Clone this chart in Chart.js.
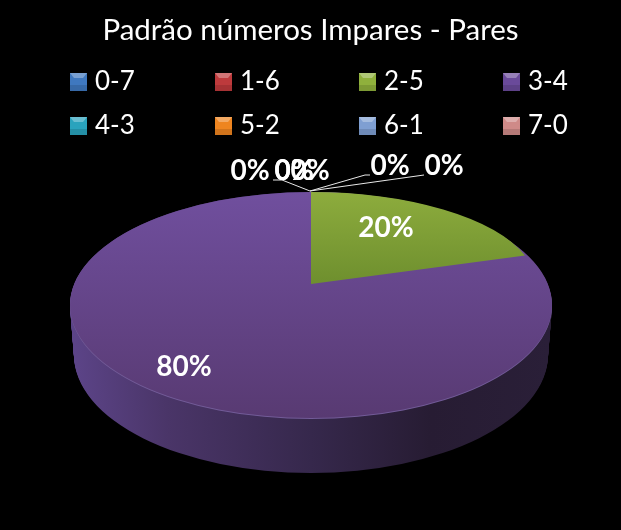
<!DOCTYPE html>
<html>
<head>
<meta charset="utf-8">
<style>
  html, body { margin: 0; padding: 0; background: #000; }
  canvas { display: block; }
</style>
<script src="https://cdn.jsdelivr.net/npm/chart.js@4/dist/chart.umd.min.js"></script>
</head>
<body>
<canvas id="myChart" width="621" height="530"></canvas>
<script>
const titleText = 'Padrão números Impares - Pares';
const categories = ['0-7', '1-6', '2-5', '3-4', '4-3', '5-2', '6-1', '7-0'];
const seriesValues = [0, 0, 20, 80, 0, 0, 0, 0];
const sliceColors = ['#3f78bf', '#bd3a3c', '#8fb03c', '#6a4a9a', '#2aa3bd', '#ee8520', '#7f9fd2', '#cf8a88'];

// layout
const fontName = 'Lato, "Open Sans", sans-serif';
const topDisc = { x: 311, y: 305, rx: 241, ry: 113 };
const bottomDisc = { x: 311, y: 355, rx: 237, ry: 118 };
// green slice needs its own centre, the original pie is in perspective
const greenDisc = { x: 311, y: 284, rx: 225, ry: 92 };
const legendCols = [70, 215, 359, 503];
const legendRows = [73, 117];
// one per category: label centre, then leader line points
const labelSpots = [
  { x: 390, y: 165, line: [[370, 175], [365, 175], [310, 191]] },
  { x: 444, y: 165, line: [[424, 175], [310, 191]] },
  { x: 386, y: 227 },
  { x: 184, y: 366 },
  { x: 310, y: 170 },
  { x: 294, y: 170 },
  { x: 294, y: 170 },
  { x: 250, y: 170, line: [[273, 180], [282, 180], [310, 191]] }
];

function withFill(arc, fill, fn) {
  const old = arc.options;
  arc.options = Object.assign({}, old, { backgroundColor: fill, borderWidth: 0 });
  fn();
  arc.options = old;
}

// draws one arc of the chart squashed on to the given ellipse
function drawOnDisc(ctx, arc, disc, fill, whole) {
  const R = arc.outerRadius;
  const start = arc.startAngle, end = arc.endAngle, circ = arc.circumference;
  if (whole) {
    arc.startAngle = -Math.PI / 2;
    arc.endAngle = Math.PI * 1.5;
    arc.circumference = Math.PI * 2;
  }
  ctx.save();
  ctx.translate(disc.x, disc.y);
  ctx.scale(disc.rx / R, disc.ry / R);
  ctx.translate(-arc.x, -arc.y);
  withFill(arc, fill, function() { arc.draw(ctx); });
  ctx.restore();
  arc.startAngle = start;
  arc.endAngle = end;
  arc.circumference = circ;
}

const pie3d = {
  id: 'pie3d',
  beforeDatasetsDraw(chart) {
    const ctx = chart.ctx;
    const arcs = chart.getDatasetMeta(0).data;
    const purple = arcs[3], green = arcs[2];
    const R = purple.outerRadius, ax = purple.x, ay = purple.y;

    // wall first, layers from the bottom disc up to the top disc
    const wall = ctx.createLinearGradient(ax - R, 0, ax + R, 0);
    wall.addColorStop(0, '#5c4488');
    wall.addColorStop(0.2, '#4a3568');
    wall.addColorStop(0.5, '#36284c');
    wall.addColorStop(0.75, '#271c33');
    wall.addColorStop(1, '#2a1f38');
    const steps = bottomDisc.y - topDisc.y;
    for (let i = 0; i <= steps; i++) {
      const t = 1 - i / steps;
      drawOnDisc(ctx, purple, {
        x: topDisc.x,
        y: topDisc.y + (bottomDisc.y - topDisc.y) * t,
        rx: topDisc.rx + (bottomDisc.rx - topDisc.rx) * t,
        ry: topDisc.ry + (bottomDisc.ry - topDisc.ry) * t
      }, wall, true);
    }

    // thin light rim on the front edge
    drawOnDisc(ctx, purple, { x: topDisc.x, y: topDisc.y + 1, rx: topDisc.rx, ry: topDisc.ry }, '#725b98', true);

    // top face
    const top = ctx.createLinearGradient(0, ay - R, 0, ay + R);
    top.addColorStop(0, '#704f9e');
    top.addColorStop(1, '#583a72');
    drawOnDisc(ctx, purple, topDisc, top, true);

    const gr = ctx.createLinearGradient(0, ay - R, 0, ay);
    gr.addColorStop(0, '#8dac3d');
    gr.addColorStop(1, '#6e8f2e');
    drawOnDisc(ctx, green, greenDisc, gr, false);
    return false;
  },
  afterDraw(chart) {
    const ctx = chart.ctx;
    ctx.save();

    // legend, four columns over two rows
    ctx.textAlign = 'left';
    ctx.textBaseline = 'middle';
    ctx.font = '26px ' + fontName;
    categories.forEach(function(name, i) {
      const x = legendCols[i % 4], y = legendRows[Math.floor(i / 4)];
      ctx.fillStyle = sliceColors[i];
      ctx.fillRect(x, y, 17, 18);
      ctx.fillStyle = 'rgba(255,255,255,0.3)';
      ctx.beginPath();
      ctx.moveTo(x, y);
      ctx.lineTo(x + 17, y);
      ctx.lineTo(x + 13, y + 5);
      ctx.lineTo(x + 4, y + 5);
      ctx.closePath();
      ctx.fill();
      ctx.fillStyle = 'rgba(0,0,0,0.12)';
      ctx.fillRect(x, y + 12, 17, 6);
      ctx.fillStyle = '#fff';
      ctx.fillText(name, x + 25, y + 9);
    });

    // leader lines
    ctx.strokeStyle = '#e8e8e8';
    ctx.lineWidth = 1;
    labelSpots.forEach(function(spot) {
      if (!spot.line) return;
      ctx.beginPath();
      spot.line.forEach(function(p, k) {
        if (k === 0) ctx.moveTo(p[0], p[1]); else ctx.lineTo(p[0], p[1]);
      });
      ctx.stroke();
    });

    // percent labels
    const total = seriesValues.reduce(function(a, b) { return a + b; }, 0);
    ctx.textAlign = 'center';
    ctx.font = 'bold 28px ' + fontName;
    ctx.fillStyle = '#fff';
    seriesValues.forEach(function(v, i) {
      ctx.fillText(Math.round(v / total * 100) + '%', labelSpots[i].x, labelSpots[i].y + 1);
    });
    ctx.restore();
  }
};

new Chart(document.getElementById('myChart'), {
  type: 'pie',
  data: {
    labels: categories,
    datasets: [{ data: seriesValues, backgroundColor: sliceColors, borderWidth: 0 }]
  },
  options: {
    responsive: false,
    animation: false,
    plugins: {
      legend: { display: false },
      tooltip: { enabled: false },
      title: {
        display: true,
        text: titleText,
        color: '#fff',
        font: { family: fontName, size: 29.5, weight: 'normal' },
        padding: { top: 13, bottom: 10 }
      }
    }
  },
  plugins: [pie3d]
});
</script>
</body>
</html>
